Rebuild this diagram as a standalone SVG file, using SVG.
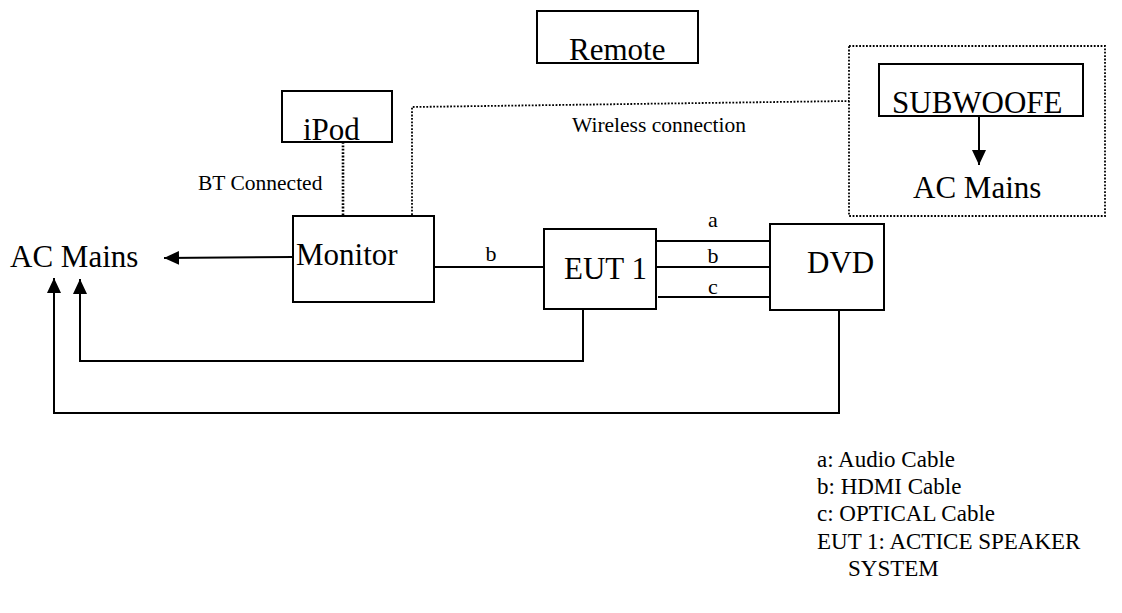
<svg xmlns="http://www.w3.org/2000/svg" width="1122" height="613" viewBox="0 0 1122 613">
<style>
text{font-family:"Liberation Serif","Times New Roman",serif;fill:#000}
.big{font-size:31px}
.lbl{font-size:22px}
.sm{font-size:21.5px}
.leg{font-size:23px}
.box{fill:#fff;stroke:#000;stroke-width:2}
.dot{fill:none;stroke:#000;stroke-width:1.8;stroke-dasharray:1.8 1.6}
.ln{fill:none;stroke:#000;stroke-width:2}
</style>
<defs>
<marker id="ah" markerUnits="userSpaceOnUse" markerWidth="16" markerHeight="16" viewBox="0 0 16 16" refX="15" refY="8" orient="auto">
<path d="M0,1 L15,8 L0,15 Z" fill="#000"/>
</marker>
</defs>
<g id="connectors">
<path class="dot" d="M343,142 V215" style="stroke-width:2.6"/>
<path class="dot" d="M412,215 V107 L849,101"/>
<path class="ln" d="M293,257 L164,258" marker-end="url(#ah)"/>
<path class="ln" d="M434,267 H549"/>
<path class="ln" d="M656,241 H770"/>
<path class="ln" d="M654,267 H770"/>
<path class="ln" d="M658,297 H773"/>
<path class="ln" d="M583,309 V361 H80 V279" marker-end="url(#ah)"/>
<path class="ln" d="M839,310 V413 H54 V278" marker-end="url(#ah)"/>
<path class="ln" d="M979,116 V165" marker-end="url(#ah)"/>
</g>
<g id="subwoofer-group">
<rect class="dot" x="849" y="46" width="256" height="170"/>
</g>
<g id="remote">
<rect class="box" x="537" y="11" width="161" height="52"/>
<text class="big" x="569" y="60">Remote</text>
</g>
<g id="ipod">
<rect class="box" x="282" y="91" width="110" height="51"/>
<text class="big" x="303" y="140">iPod</text>
</g>
<g id="subwoofer">
<rect class="box" x="879" y="64" width="204" height="52"/>
<text class="big" x="892" y="113">SUBWOOFE</text>
</g>
<g id="sub-ac-mains">
<text class="big" x="913" y="198">AC Mains</text>
</g>
<g id="monitor">
<rect class="box" x="293" y="216" width="141" height="86"/>
<text class="big" x="296" y="265">Monitor</text>
</g>
<g id="eut1">
<rect class="box" x="544" y="229" width="112" height="80"/>
<text class="big" x="564" y="279">EUT 1</text>
</g>
<g id="dvd">
<rect class="box" x="770" y="224" width="114" height="86"/>
<text class="big" x="807" y="273">DVD</text>
</g>
<g id="ac-mains">
<text class="big" x="10" y="267">AC Mains</text>
</g>
<g id="labels">
<text class="sm" x="572" y="132">Wireless connection</text>
<text class="sm" x="198" y="190">BT Connected</text>
<text class="lbl" x="491" y="261" text-anchor="middle">b</text>
<text class="lbl" x="713" y="227" text-anchor="middle">a</text>
<text class="lbl" x="713" y="263" text-anchor="middle">b</text>
<text class="lbl" x="713" y="294" text-anchor="middle">c</text>
</g>
<g id="legend">
<text class="leg" x="817" y="467">a: Audio Cable</text>
<text class="leg" x="817" y="494">b: HDMI Cable</text>
<text class="leg" x="817" y="521">c: OPTICAL Cable</text>
<text class="leg" x="817" y="549">EUT 1: ACTICE SPEAKER</text>
<text class="leg" x="848" y="576">SYSTEM</text>
</g>
</svg>
